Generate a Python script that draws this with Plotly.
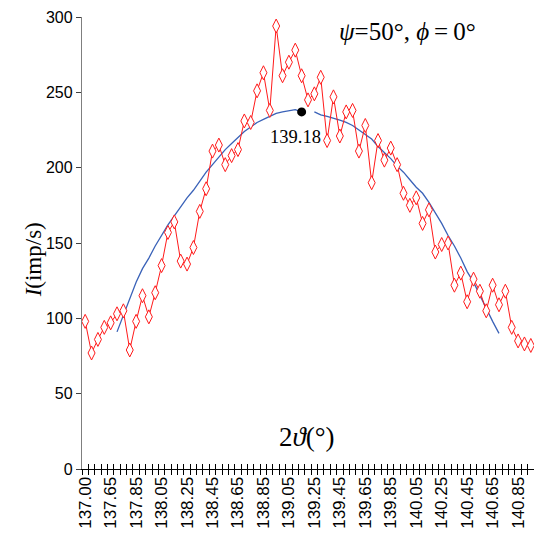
import plotly.graph_objects as go

# Category tick labels (every 4th category), as printed on the axis
tick_labels = ["137.00", "137.65", "137.85", "138.05", "138.25", "138.45", "138.65",
               "138.85", "139.05", "139.25", "139.45", "139.65", "139.85", "140.05",
               "140.25", "140.45", "140.65", "140.85"]
tick_index = [0, 4, 8, 12, 16, 20, 24, 28, 32, 36, 40, 44, 48, 52, 56, 60, 64, 68]

# Measured intensity (imp/s), one per category
intensity = [98, 77, 86, 94, 97, 103, 105, 79, 98, 115, 101, 117, 135, 157, 164,
             138, 136, 147, 171, 186, 211, 215, 202, 208, 212, 231, 230, 251, 263,
             238, 294, 261, 270, 278, 261, 245, 249, 260, 218, 247, 221, 237, 238,
             211, 228, 190, 218, 205, 213, 202, 183, 175, 180, 163, 172, 144, 149,
             150, 122, 130, 111, 126, 118, 105, 122, 109, 118, 94, 85, 83, 82]

# Fitted curve (categories 5..65), gap after the peak marker
fit_start = 5
fit_values = [91, 102, 113, 124, 133, 140, 148, 155, 162, 168,
              174, 180, 185, 191, 197, 202, 207, 212, 216, 220,
              224, 227, 230, 232, 234, 236, 237, 238, 238.5, 237,
              None, 237, 235, 234, 233, 231.5, 230, 228, 225, 222,
              219, 214, 210, 206, 201, 197, 192, 187, 183, 177,
              170, 163, 155, 148, 140, 131, 124, 115, 106, 98, 90]

# Peak position marker
peak_index = 34
peak_value = 237
peak_label = "139.18"

n = len(intensity)
x_idx = list(range(n))
fit_x = list(range(fit_start, fit_start + len(fit_values)))
boundaries = [i - 0.5 for i in range(n + 1)]

fig = go.Figure()

fig.add_trace(go.Scatter(
    x=fit_x, y=fit_values, mode="lines",
    line=dict(color="#3a62b8", width=1.3),
    connectgaps=False, hoverinfo="skip", showlegend=False,
))

fig.add_trace(go.Scatter(
    x=x_idx, y=intensity, mode="lines+markers",
    line=dict(color="#ff1a1a", width=1),
    marker=dict(symbol="diamond-tall", size=10, color="white",
                line=dict(color="#ff1a1a", width=1)),
    showlegend=False,
))

fig.add_trace(go.Scatter(
    x=[peak_index], y=[peak_value], mode="markers",
    marker=dict(color="black", size=9),
    showlegend=False,
))

# invisible trace to carry the secondary (inside-tick) axis
fig.add_trace(go.Scatter(x=[x_idx[0]], y=[intensity[0]], xaxis="x2",
                         mode="markers", marker=dict(opacity=0),
                         hoverinfo="skip", showlegend=False))

serif = "Liberation Serif, Times New Roman, serif"
sans = "Liberation Sans, Arial, sans-serif"

fig.update_layout(
    width=534, height=527,
    margin=dict(l=74, r=8, t=9, b=66),
    paper_bgcolor="white", plot_bgcolor="white",
    xaxis=dict(
        range=[-0.5, n - 0.5], showgrid=False, zeroline=False, automargin=False,
        showline=True, linecolor="black", linewidth=1,
        tickmode="array", tickvals=tick_index, ticktext=tick_labels,
        ticks="", tickangle=-90,
        tickfont=dict(family=sans, size=17, color="black"),
        minor=dict(tickmode="array", tickvals=boundaries, ticks="outside",
                   ticklen=5, tickcolor="black", tickwidth=1, showgrid=False),
    ),
    xaxis2=dict(
        range=[-0.5, n - 0.5], overlaying="x", anchor="y", side="bottom",
        showgrid=False, zeroline=False, showline=False, automargin=False,
        tickmode="array", tickvals=boundaries, ticks="inside",
        ticklen=5, tickcolor="black", tickwidth=1, showticklabels=False,
    ),
    yaxis=dict(
        range=[0, 300], showgrid=False, zeroline=False, automargin=False,
        showline=True, linecolor="#7f7f7f", linewidth=1.3,
        tickmode="array", tickvals=[0, 50, 100, 150, 200, 250, 300],
        ticks="outside", ticklen=5, tickcolor="#404040",
        tickfont=dict(family=sans, size=16, color="black"),
    ),
    annotations=[
        dict(text="2<i>ϑ</i>(°)", xref="paper", yref="paper", x=0.498, y=0.071,
             xanchor="center", yanchor="middle", showarrow=False,
             font=dict(family=serif, size=27, color="black")),
        dict(text="<i>I</i>(imp/s)", xref="paper", yref="paper", x=-0.108, y=0.462,
             xanchor="center", yanchor="middle", textangle=-90, showarrow=False,
             font=dict(family=serif, size=23, color="black")),
        dict(text="<i>ψ</i>=50°, <i>ϕ</i>\u2009=\u20090°", xref="paper", yref="paper",
             x=0.72, y=0.967, xanchor="center", yanchor="middle", showarrow=False,
             font=dict(family=serif, size=25, color="black")),
        dict(text=peak_label, x=peak_index, y=peak_value, xref="x", yref="y",
             xanchor="center", yanchor="middle",
             showarrow=False, xshift=-6, yshift=-25,
             font=dict(family=serif, size=18.5, color="black")),
    ],
)

fig.write_html("out.html")
